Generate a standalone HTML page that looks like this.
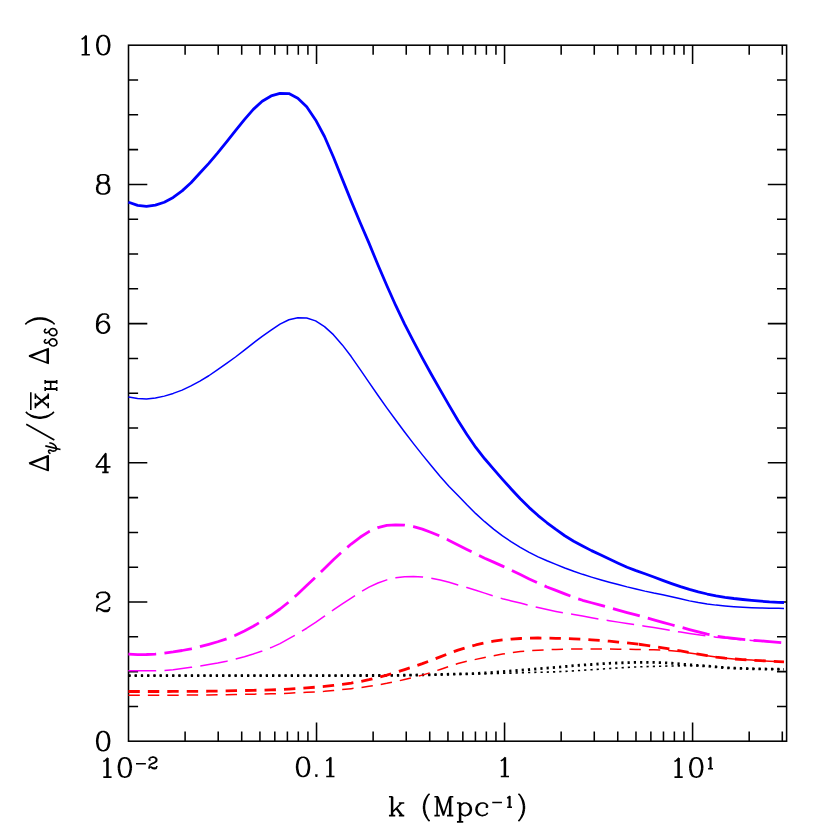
<!DOCTYPE html>
<html><head><meta charset="utf-8"><title>plot</title>
<style>html,body{margin:0;padding:0;background:#fff;font-family:"Liberation Sans",sans-serif}svg{display:block}</style>
</head><body>
<svg width="830" height="830" viewBox="0 0 830 830">
<rect width="830" height="830" fill="#fff"/>
<rect x="128.5" y="45.2" width="658.1" height="696" fill="none" stroke="#000" stroke-width="1.55"/>
<path d="M185.1 741.2v-9.6M185.1 45.2v9.6M218.21 741.2v-9.6M218.21 45.2v9.6M241.7 741.2v-9.6M241.7 45.2v9.6M259.93 741.2v-9.6M259.93 45.2v9.6M274.81 741.2v-9.6M274.81 45.2v9.6M287.4 741.2v-9.6M287.4 45.2v9.6M298.31 741.2v-9.6M298.31 45.2v9.6M307.92 741.2v-9.6M307.92 45.2v9.6M316.53 741.2v-18.8M316.53 45.2v18.8M373.13 741.2v-9.6M373.13 45.2v9.6M406.24 741.2v-9.6M406.24 45.2v9.6M429.73 741.2v-9.6M429.73 45.2v9.6M447.95 741.2v-9.6M447.95 45.2v9.6M462.84 741.2v-9.6M462.84 45.2v9.6M475.43 741.2v-9.6M475.43 45.2v9.6M486.34 741.2v-9.6M486.34 45.2v9.6M495.95 741.2v-9.6M495.95 45.2v9.6M504.56 741.2v-18.8M504.56 45.2v18.8M561.16 741.2v-9.6M561.16 45.2v9.6M594.27 741.2v-9.6M594.27 45.2v9.6M617.76 741.2v-9.6M617.76 45.2v9.6M635.98 741.2v-9.6M635.98 45.2v9.6M650.87 741.2v-9.6M650.87 45.2v9.6M663.46 741.2v-9.6M663.46 45.2v9.6M674.36 741.2v-9.6M674.36 45.2v9.6M683.98 741.2v-9.6M683.98 45.2v9.6M692.59 741.2v-18.8M692.59 45.2v18.8M749.19 741.2v-9.6M749.19 45.2v9.6M782.3 741.2v-9.6M782.3 45.2v9.6M128.5 706.4h9.6M786.6 706.4h-9.6M128.5 671.6h9.6M786.6 671.6h-9.6M128.5 636.8h9.6M786.6 636.8h-9.6M128.5 602h18.8M786.6 602h-18.8M128.5 567.2h9.6M786.6 567.2h-9.6M128.5 532.4h9.6M786.6 532.4h-9.6M128.5 497.6h9.6M786.6 497.6h-9.6M128.5 462.8h18.8M786.6 462.8h-18.8M128.5 428h9.6M786.6 428h-9.6M128.5 393.2h9.6M786.6 393.2h-9.6M128.5 358.4h9.6M786.6 358.4h-9.6M128.5 323.6h18.8M786.6 323.6h-18.8M128.5 288.8h9.6M786.6 288.8h-9.6M128.5 254h9.6M786.6 254h-9.6M128.5 219.2h9.6M786.6 219.2h-9.6M128.5 184.4h18.8M786.6 184.4h-18.8M128.5 149.6h9.6M786.6 149.6h-9.6M128.5 114.8h9.6M786.6 114.8h-9.6M128.5 80h9.6M786.6 80h-9.6" stroke="#000" stroke-width="1.55" fill="none"/>
<path d="M128.4 675.55 L128.7 675.55 L137.6 675.55 L146.5 675.55 L155.4 675.55 L164.3 675.55 L173.2 675.55 L182.1 675.55 L191 675.55 L199.9 675.55 L208.8 675.55 L217.7 675.55 L226.6 675.55 L235.5 675.55 L244.4 675.55 L253.3 675.55 L262.2 675.55 L271.1 675.55 L280 675.55 L288.9 675.55 L297.8 675.55 L306.7 675.55 L315.6 675.55 L324.5 675.55 L333.4 675.55 L342.3 675.55 L351.2 675.55 L360.1 675.55 L369 675.55 L377.9 675.55 L386.8 675.52 L395.7 675.42 L404.6 675.26 L413.5 675.08 L422.4 674.91 L431.3 674.74 L440.2 674.56 L449.1 674.37 L458 674.16 L466.9 673.96 L475.8 673.81 L484.7 673.71 L493.6 673.56 L502.5 673.3 L511.4 673.11 L520.3 672.85 L529.2 672.5 L538.1 672.28 L547 672.1 L555.9 671.83 L564.8 671.39 L573.7 670.83 L582.6 670.27 L591.5 669.69 L600.4 669.13 L609.3 668.53 L618.2 667.92 L627.1 667.38 L636 666.95 L644.9 666.65 L653.8 666.4 L662.7 666.18 L671.6 665.97 L680.5 665.82 L689.4 665.75 L698.3 665.82 L707.2 666.13 L716.1 666.84 L725 667.67 L733.9 668.18 L742.8 668.5 L751.7 668.74 L760.6 668.93 L769.5 669.09 L778.4 669.23 L784 669.3" fill="none" stroke="#000" stroke-width="1.6" stroke-dasharray="2.2 4.045" stroke-linejoin="round" stroke-linecap="butt"/>
<path d="M128.4 675.55 L128.7 675.55 L137.6 675.55 L146.5 675.55 L155.4 675.55 L164.3 675.55 L173.2 675.55 L182.1 675.55 L191 675.55 L199.9 675.55 L208.8 675.55 L217.7 675.55 L226.6 675.55 L235.5 675.55 L244.4 675.55 L253.3 675.55 L262.2 675.55 L271.1 675.55 L280 675.55 L288.9 675.55 L297.8 675.55 L306.7 675.55 L315.6 675.55 L324.5 675.55 L333.4 675.54 L342.3 675.54 L351.2 675.53 L360.1 675.52 L369 675.51 L377.9 675.5 L386.8 675.47 L395.7 675.38 L404.6 675.24 L413.5 675.08 L422.4 674.91 L431.3 674.72 L440.2 674.5 L449.1 674.27 L458 674.05 L466.9 673.81 L475.8 673.48 L484.7 673.01 L493.6 672.38 L502.5 671.56 L511.4 670.92 L520.3 670.3 L529.2 669.58 L538.1 668.85 L547 668.11 L555.9 667.35 L564.8 666.53 L573.7 665.72 L582.6 665.05 L591.5 664.51 L600.4 663.85 L609.3 663.29 L618.2 662.96 L627.1 662.6 L636 662.4 L644.9 662.4 L653.8 662.4 L662.7 662.67 L671.6 663.23 L680.5 664.03 L689.4 664.81 L698.3 665.46 L707.2 666.09 L716.1 666.87 L725 667.67 L733.9 668.18 L742.8 668.5 L751.7 668.74 L760.6 668.93 L769.5 669.09 L778.4 669.23 L784 669.3" fill="none" stroke="#000" stroke-width="2.8" stroke-dasharray="2.2 4.045" stroke-linejoin="round" stroke-linecap="butt"/>
<path d="M128.4 695.2 L128.7 695.2 L137.6 695.2 L146.5 695.2 L155.4 695.2 L164.3 695.2 L173.2 695.17 L182.1 695.13 L191 695.07 L199.9 695 L208.8 694.91 L217.7 694.79 L226.6 694.64 L235.5 694.48 L244.4 694.33 L253.3 694.18 L262.2 694.02 L271.1 693.84 L280 693.6 L288.9 693.21 L297.8 692.72 L306.7 692.29 L315.6 691.86 L324.5 691.27 L333.4 690.46 L342.3 689.57 L351.2 688.64 L360.1 687.59 L369 686.36 L377.9 684.96 L386.8 683.35 L395.7 681.53 L404.6 679.58 L413.5 677.49 L422.4 675.12 L431.3 672.35 L440.2 669.43 L449.1 666.42 L458 663.57 L466.9 661.3 L475.8 659.38 L484.7 657.5 L493.6 655.68 L502.5 654.06 L511.4 652.59 L520.3 651.47 L529.2 650.74 L538.1 650.2 L547 649.76 L555.9 649.41 L564.8 649.19 L573.7 649.04 L582.6 649 L591.5 649 L600.4 649 L609.3 649.04 L618.2 649.13 L627.1 649.25 L636 649.42 L644.9 649.6 L653.8 649.8 L662.7 650.13 L671.6 650.77 L680.5 651.66 L689.4 652.89 L698.3 654.33 L707.2 655.74 L716.1 657.09 L725 658.14 L733.9 658.91 L742.8 659.54 L751.7 660.11 L760.6 660.67 L769.5 661.17 L778.4 661.58 L784 661.8" fill="none" stroke="#f00" stroke-width="1.5" stroke-dasharray="11.4 8.05" stroke-linejoin="round" stroke-linecap="butt"/>
<path d="M128.4 691.5 L128.7 691.5 L137.6 691.5 L146.5 691.5 L155.4 691.5 L164.3 691.5 L173.2 691.47 L182.1 691.43 L191 691.37 L199.9 691.3 L208.8 691.2 L217.7 691.06 L226.6 690.88 L235.5 690.69 L244.4 690.51 L253.3 690.33 L262.2 690.13 L271.1 689.89 L280 689.6 L288.9 689.15 L297.8 688.55 L306.7 687.92 L315.6 687.19 L324.5 686.36 L333.4 685.4 L342.3 684.3 L351.2 683.06 L360.1 681.58 L369 679.73 L377.9 677.55 L386.8 675.09 L395.7 672.35 L404.6 669.56 L413.5 666.7 L422.4 663.65 L431.3 660.33 L440.2 656.92 L449.1 653.4 L458 650.07 L466.9 647.33 L475.8 644.98 L484.7 642.95 L493.6 641.16 L502.5 639.9 L511.4 639.03 L520.3 638.49 L529.2 638.18 L538.1 638.01 L547 638.07 L555.9 638.29 L564.8 638.53 L573.7 638.83 L582.6 639.23 L591.5 639.78 L600.4 640.43 L609.3 641.18 L618.2 642.02 L627.1 642.92 L636 643.91 L638.9 644.26" fill="none" stroke="#f00" stroke-width="2.8" stroke-dasharray="11.4 8.05" stroke-linejoin="round" stroke-linecap="butt"/>
<path d="M638.9 644.26 L644.9 645.06 L653.8 646.41 L662.7 647.84 L671.6 649.34 L680.5 650.89 L689.4 652.5 L698.3 654.11 L707.2 655.65 L716.1 657.08 L725 658.15 L733.9 658.91 L742.8 659.54 L751.7 660.11 L760.6 660.67 L769.5 661.17 L778.4 661.58 L784 661.8" fill="none" stroke="#f00" stroke-width="2.8" stroke-dasharray="11.4 8.05" stroke-linejoin="round" stroke-linecap="butt"/>
<path d="M128.4 670.85 L128.7 670.85 L137.6 670.85 L146.5 670.85 L155.4 670.81 L164.3 670.43 L173.2 669.69 L182.1 668.6 L191 667.36 L199.9 666.04 L208.8 664.61 L217.7 662.99 L226.6 661.16 L235.5 659.07 L244.4 656.66 L253.3 653.97 L262.2 650.95 L271.1 647.56 L280 643.57 L288.9 638.66 L297.8 633.66 L306.7 628.24 L315.6 622.4 L324.5 616.22 L333.4 609.93 L342.3 603.86 L351.2 598.01 L360.1 592.33 L369 587.14 L377.9 583.01 L386.8 579.87 L395.7 577.83 L404.6 576.69 L413.5 576.46 L422.4 577.01 L431.3 578.22 L440.2 580.04 L449.1 582.34 L458 584.91 L466.9 587.55 L475.8 590.29 L484.7 593.12 L493.6 596.05 L502.5 598.68 L511.4 600.92 L520.3 603.08 L529.2 605.35 L538.1 607.55 L547 609.56 L555.9 611.41 L564.8 613.06 L573.7 614.54 L582.6 616.06 L591.5 617.69 L600.4 619.27 L609.3 620.73 L618.2 622.12 L627.1 623.47 L636 624.79 L644.9 626.16 L653.8 627.59 L662.7 629.05 L671.6 630.59 L680.5 632.08 L689.4 633.46 L698.3 634.76 L707.2 635.99 L716.1 637.14 L725 638.12 L733.9 638.97 L742.8 639.79 L751.7 640.53 L760.6 641.16 L769.5 641.77 L778.4 642.4 L784 642.8" fill="none" stroke="#f0f" stroke-width="1.5" stroke-dasharray="27.8 8.3" stroke-linejoin="round" stroke-linecap="butt"/>
<path d="M128.4 654.02 L128.7 654.04 L137.6 654.56 L146.5 654.48 L155.4 654.04 L164.3 653.17 L173.2 651.95 L182.1 650.5 L191 648.79 L199.9 646.72 L208.8 644.34 L217.7 641.77 L226.6 638.86 L235.5 635.29 L244.4 630.96 L253.3 626.19 L262.2 620.96 L271.1 615.27 L280 609 L288.9 601.93 L297.8 594.04 L306.7 585.59 L315.6 577.16 L324.5 568.5 L333.4 559.73 L342.3 551.54 L351.2 544.03 L360.1 537.3 L369 531.56 L377.9 527.65 L386.8 525.4 L395.7 524.8 L404.6 525.16 L413.5 526.69 L422.4 529.18 L431.3 532.48 L440.2 536.1 L449.1 540.39 L458 544.98 L466.9 549.49 L475.8 553.97 L484.7 558.17 L493.6 562.13 L502.5 566.15 L511.4 570.32 L520.3 574.55 L529.2 578.9 L538.1 583.15 L547 586.93 L555.9 590.42 L564.8 593.89 L573.7 597.32 L582.6 600.29 L591.5 602.74 L600.4 605.12 L609.3 607.66 L618.2 610.2 L627.1 612.6 L636 614.93 L644.9 617.36 L653.8 619.87 L662.7 622.34 L671.6 624.74 L680.5 627.14 L689.4 629.6 L698.3 631.97 L707.2 634.17 L716.1 636.12 L725 637.45 L733.9 638.42 L742.8 639.33 L751.7 640.15 L760.6 640.86 L769.5 641.56 L778.4 642.31 L784 642.8" fill="none" stroke="#f0f" stroke-width="2.8" stroke-dasharray="27.8 8.3" stroke-linejoin="round" stroke-linecap="butt"/>
<path d="M128.4 397.04 L128.7 397.11 L137.6 398.57 L146.5 398.95 L155.4 398.09 L164.3 396.12 L173.2 393.41 L182.1 390.12 L191 385.9 L199.9 381.07 L208.8 375.75 L217.7 369.66 L226.6 363.4 L235.5 356.99 L244.4 350.1 L253.3 343.04 L262.2 336.43 L271.1 330.18 L280 324.2 L288.9 319.79 L297.8 317.71 L306.7 318.01 L315.6 320.9 L324.5 326.63 L333.4 334.65 L342.3 344.9 L351.2 356.56 L360.1 369.35 L369 382.35 L377.9 395.23 L386.8 407.84 L395.7 420.06 L404.6 431.97 L413.5 443.66 L422.4 454.88 L431.3 465.82 L440.2 476.49 L449.1 486.4 L458 495.48 L466.9 504.84 L475.8 513.68 L484.7 521.7 L493.6 529.13 L502.5 535.89 L511.4 541.83 L520.3 547.34 L529.2 552.44 L538.1 556.93 L547 560.79 L555.9 564.38 L564.8 567.98 L573.7 571.28 L582.6 574.34 L591.5 577.15 L600.4 579.75 L609.3 582.18 L618.2 584.42 L627.1 586.89 L636 588.92 L644.9 591.11 L653.8 593.06 L662.7 594.8 L671.6 596.67 L680.5 598.82 L689.4 600.87 L698.3 602.58 L707.2 604.02 L716.1 605.12 L725 605.99 L733.9 606.69 L742.8 607.25 L751.7 607.67 L760.6 607.97 L769.5 608.19 L778.4 608.34 L784 608.4" fill="none" stroke="#00f" stroke-width="1.5" stroke-linejoin="round" stroke-linecap="butt"/>
<path d="M128.4 202.09 L128.7 202.23 L137.6 205.36 L146.5 206.35 L155.4 205.15 L164.3 202.24 L173.2 197.44 L182.1 190.85 L191 182.75 L199.9 173.07 L208.8 163.32 L217.7 152.83 L226.6 141.85 L235.5 130.64 L244.4 119.56 L253.3 109.39 L262.2 101.28 L271.1 95.93 L280 93.3 L288.9 93.55 L297.8 98.14 L306.7 106.72 L315.6 119.95 L324.5 136.51 L333.4 157.04 L342.3 179.12 L351.2 201.13 L360.1 222.47 L369 243.15 L377.9 264.84 L386.8 285.44 L395.7 305.46 L404.6 324.08 L413.5 341.3 L422.4 358.14 L431.3 374.3 L440.2 389.85 L449.1 405.42 L458 420.48 L466.9 434.53 L475.8 447.46 L484.7 458.78 L493.6 469.12 L502.5 479.31 L511.4 489.2 L520.3 498.72 L529.2 507.6 L538.1 515.54 L547 522.77 L555.9 529.47 L564.8 535.76 L573.7 541.2 L582.6 546.03 L591.5 550.62 L600.4 554.84 L609.3 559.04 L618.2 563.18 L627.1 567.26 L636 570.62 L644.9 573.75 L653.8 577.01 L662.7 580.35 L671.6 583.56 L680.5 586.63 L689.4 589.42 L698.3 591.87 L707.2 594.01 L716.1 595.78 L725 597.28 L733.9 598.5 L742.8 599.49 L751.7 600.37 L760.6 601.2 L769.5 601.87 L778.4 602.31 L784 602.51" fill="none" stroke="#00f" stroke-width="2.8" stroke-linejoin="round" stroke-linecap="butt"/>
<path d="M102.23 731.53L104.06 731.53M102.23 731.53L99.49 732.45M102.23 731.53L100.41 732.45M104.06 731.53L105.89 732.45M104.06 731.53L106.81 732.45M99.49 732.45L97.66 735.2M100.41 732.45L99.49 733.37M105.89 732.45L106.81 733.37M106.81 732.45L108.64 735.2M99.49 733.37L98.58 735.2M106.81 733.37L107.72 735.2M97.66 735.2L96.75 739.77M98.58 735.2L97.66 739.77M107.72 735.2L108.64 739.77M108.64 735.2L109.56 739.77M96.75 739.77L96.75 742.51M97.66 739.77L97.66 742.51M108.64 739.77L108.64 742.51M109.56 739.77L109.56 742.51M96.75 742.51L97.66 747.09M97.66 742.51L98.58 747.09M108.64 742.51L107.72 747.09M109.56 742.51L108.64 747.09M97.66 747.09L99.49 749.84M98.58 747.09L99.49 748.92M107.72 747.09L106.81 748.92M108.64 747.09L106.81 749.84M99.49 748.92L100.41 749.84M106.81 748.92L105.89 749.84M99.49 749.84L102.23 750.75M100.41 749.84L102.23 750.75M105.89 749.84L104.06 750.75M106.81 749.84L104.06 750.75M102.23 750.75L104.06 750.75M101.32 592.33L104.98 592.33M101.32 592.33L98.58 593.25M104.98 592.33L106.81 593.25M104.98 592.33L107.72 593.25M98.58 593.25L97.66 594.16M106.81 593.25L107.72 594.16M107.72 593.25L108.64 594.16M97.66 594.16L96.75 596M107.72 594.16L108.64 596M108.64 594.16L109.56 596M96.75 596L96.75 596.91M97.66 596L98.58 596.91M108.64 596L108.64 597.82M109.56 596L109.56 597.82M96.75 596.91L97.66 597.82M98.58 596.91L97.66 597.82M108.64 597.82L107.72 599.65M109.56 597.82L108.64 599.65M107.72 599.65L104.98 601.48M108.64 599.65L105.89 601.48M104.98 601.48L99.49 604.23M105.89 601.48L101.32 603.31M99.49 604.23L97.66 606.06M97.66 606.06L96.75 608.8M109.56 606.97L109.56 608.8M96.75 608.8L96.75 611.55M97.66 608.8L99.49 608.8M97.66 608.8L96.75 609.72M99.49 608.8L104.06 610.63M99.49 608.8L104.06 611.55M109.56 608.8L108.64 609.72M109.56 608.8L108.64 610.63M108.64 609.72L106.81 610.63M104.06 610.63L106.81 610.63M108.64 610.63L107.72 611.55M104.06 611.55L107.72 611.55M105.89 453.14L103.15 456.8M105.89 453.14L98.58 463.2M105.89 453.14L95.83 466.86M105.89 453.14L105.89 472.35M104.98 454.97L104.98 472.35M103.15 456.8L98.58 463.2M103.15 456.8L95.83 466.86M101.32 459.54L100.41 460.46M98.58 463.2L95.83 466.86M95.83 466.86L110.47 466.86M102.23 472.35L108.64 472.35M103.15 313.94L105.89 313.94M103.15 313.94L100.41 314.85M103.15 313.94L101.32 314.85M105.89 313.94L107.72 314.85M100.41 314.85L98.58 316.68M101.32 314.85L99.49 316.68M107.72 314.85L108.64 316.68M98.58 316.68L97.66 318.51M99.49 316.68L98.58 318.51M107.72 316.68L106.81 317.6M108.64 316.68L108.64 317.6M106.81 317.6L107.72 318.51M108.64 317.6L107.72 318.51M97.66 318.51L96.75 322.17M98.58 318.51L97.66 322.17M103.15 321.26L104.06 321.26M103.15 321.26L100.41 322.17M104.06 321.26L105.89 322.17M104.06 321.26L106.81 322.17M96.75 322.17L96.75 327.66M97.66 322.17L97.66 327.66M100.41 322.17L98.58 324M105.89 322.17L107.72 324M106.81 322.17L108.64 324M98.58 324L97.66 326.75M107.72 324L108.64 326.75M108.64 324L109.56 326.75M108.64 326.75L108.64 327.66M109.56 326.75L109.56 327.66M96.75 327.66L97.66 330.41M97.66 327.66L98.58 330.41M108.64 327.66L107.72 330.41M109.56 327.66L108.64 330.41M97.66 330.41L99.49 332.24M98.58 330.41L100.41 332.24M107.72 330.41L105.89 332.24M108.64 330.41L106.81 332.24M99.49 332.24L102.23 333.15M100.41 332.24L102.23 333.15M105.89 332.24L104.06 333.15M106.81 332.24L104.06 333.15M102.23 333.15L104.06 333.15M101.32 174.73L104.98 174.73M101.32 174.73L98.58 175.65M101.32 174.73L99.49 175.65M104.98 174.73L106.81 175.65M104.98 174.73L107.72 175.65M98.58 175.65L97.66 177.48M99.49 175.65L98.58 177.48M106.81 175.65L107.72 177.48M107.72 175.65L108.64 177.48M97.66 177.48L97.66 180.22M98.58 177.48L98.58 180.22M107.72 177.48L107.72 180.22M108.64 177.48L108.64 180.22M97.66 180.22L98.58 182.05M98.58 180.22L99.49 182.05M107.72 180.22L106.81 182.05M108.64 180.22L107.72 182.05M98.58 182.05L101.32 182.97M99.49 182.05L101.32 182.97M106.81 182.05L104.98 182.97M107.72 182.05L104.98 182.97M101.32 182.97L104.98 182.97M101.32 182.97L98.58 183.88M101.32 182.97L99.49 183.88M104.98 182.97L106.81 183.88M104.98 182.97L107.72 183.88M98.58 183.88L97.66 184.8M99.49 183.88L98.58 184.8M106.81 183.88L107.72 184.8M107.72 183.88L108.64 184.8M97.66 184.8L96.75 186.63M98.58 184.8L97.66 186.63M107.72 184.8L108.64 186.63M108.64 184.8L109.56 186.63M96.75 186.63L96.75 190.29M97.66 186.63L97.66 190.29M108.64 186.63L108.64 190.29M109.56 186.63L109.56 190.29M96.75 190.29L97.66 192.12M97.66 190.29L98.58 192.12M108.64 190.29L107.72 192.12M109.56 190.29L108.64 192.12M97.66 192.12L98.58 193.03M98.58 192.12L99.49 193.03M107.72 192.12L106.81 193.03M108.64 192.12L107.72 193.03M98.58 193.03L101.32 193.95M99.49 193.03L101.32 193.95M106.81 193.03L104.98 193.95M107.72 193.03L104.98 193.95M101.32 193.95L104.98 193.95M86.21 35.54L83.46 38.28M86.21 35.54L86.21 54.75M85.29 36.45L85.29 54.75M83.46 38.28L81.63 39.2M81.63 54.75L89.87 54.75M102.33 35.54L104.16 35.54M102.33 35.54L99.59 36.45M102.33 35.54L100.5 36.45M104.16 35.54L105.99 36.45M104.16 35.54L106.91 36.45M99.59 36.45L97.76 39.2M100.5 36.45L99.59 37.37M105.99 36.45L106.91 37.37M106.91 36.45L108.74 39.2M99.59 37.37L98.67 39.2M106.91 37.37L107.82 39.2M97.76 39.2L96.84 43.77M98.67 39.2L97.76 43.77M107.82 39.2L108.74 43.77M108.74 39.2L109.66 43.77M96.84 43.77L96.84 46.52M97.76 43.77L97.76 46.52M108.74 43.77L108.74 46.52M109.66 43.77L109.66 46.52M96.84 46.52L97.76 51.09M97.76 46.52L98.67 51.09M108.74 46.52L107.82 51.09M109.66 46.52L108.74 51.09M97.76 51.09L99.59 53.84M98.67 51.09L99.59 52.92M107.82 51.09L106.91 52.92M108.74 51.09L106.91 53.84M99.59 52.92L100.5 53.84M106.91 52.92L105.99 53.84M99.59 53.84L102.33 54.75M100.5 53.84L102.33 54.75M105.99 53.84L104.16 54.75M106.91 53.84L104.16 54.75M102.33 54.75L104.16 54.75M107.91 757.88L105.16 760.63M107.91 757.88L107.91 777.1M106.99 758.8L106.99 777.1M105.16 760.63L103.33 761.55M103.33 777.1L111.57 777.1M123.93 757.88L125.76 757.88M123.93 757.88L121.19 758.8M123.93 757.88L122.1 758.8M125.76 757.88L127.59 758.8M125.76 757.88L128.51 758.8M121.19 758.8L119.36 761.55M122.1 758.8L121.19 759.72M127.59 758.8L128.51 759.72M128.51 758.8L130.34 761.55M121.19 759.72L120.27 761.55M128.51 759.72L129.42 761.55M119.36 761.55L118.44 766.12M120.27 761.55L119.36 766.12M129.42 761.55L130.34 766.12M130.34 761.55L131.25 766.12M118.44 766.12L118.44 768.87M119.36 766.12L119.36 768.87M130.34 766.12L130.34 768.87M131.25 766.12L131.25 768.87M118.44 768.87L119.36 773.44M119.36 768.87L120.27 773.44M130.34 768.87L129.42 773.44M131.25 768.87L130.34 773.44M119.36 773.44L121.19 776.19M120.27 773.44L121.19 775.27M129.42 773.44L128.51 775.27M130.34 773.44L128.51 776.19M121.19 775.27L122.1 776.19M128.51 775.27L127.59 776.19M121.19 776.19L123.93 777.1M122.1 776.19L123.93 777.1M127.59 776.19L125.76 777.1M128.51 776.19L125.76 777.1M123.93 777.1L125.76 777.1M136.01 763.76L145.89 763.76M151.85 757.17L154.05 757.17M151.85 757.17L150.2 757.72M154.05 757.17L155.15 757.72M154.05 757.17L155.69 757.72M150.2 757.72L149.66 758.27M155.15 757.72L155.69 758.27M155.69 757.72L156.24 758.27M149.66 758.27L149.11 759.37M155.69 758.27L156.24 759.37M156.24 758.27L156.79 759.37M149.11 759.37L149.11 759.92M149.66 759.37L150.2 759.92M156.24 759.37L156.24 760.47M156.79 759.37L156.79 760.47M149.11 759.92L149.66 760.47M150.2 759.92L149.66 760.47M156.24 760.47L155.69 761.56M156.79 760.47L156.24 761.56M155.69 761.56L154.05 762.66M156.24 761.56L154.6 762.66M154.05 762.66L150.75 764.31M154.6 762.66L151.85 763.76M150.75 764.31L149.66 765.41M149.66 765.41L149.11 767.05M156.79 765.96L156.79 767.05M149.11 767.05L149.11 768.7M149.66 767.05L150.75 767.05M149.66 767.05L149.11 767.6M150.75 767.05L153.5 768.15M150.75 767.05L153.5 768.7M156.79 767.05L156.24 767.6M156.79 767.05L156.24 768.15M156.24 767.6L155.15 768.15M153.5 768.15L155.15 768.15M156.24 768.15L155.69 768.7M153.5 768.7L155.69 768.7M302.14 757.24L303.97 757.24M302.14 757.24L299.39 758.15M302.14 757.24L300.31 758.15M303.97 757.24L305.8 758.15M303.97 757.24L306.71 758.15M299.39 758.15L297.56 760.9M300.31 758.15L299.39 759.07M305.8 758.15L306.71 759.07M306.71 758.15L308.54 760.9M299.39 759.07L298.48 760.9M306.71 759.07L307.63 760.9M297.56 760.9L296.65 765.47M298.48 760.9L297.56 765.47M307.63 760.9L308.54 765.47M308.54 760.9L309.46 765.47M296.65 765.47L296.65 768.22M297.56 765.47L297.56 768.22M308.54 765.47L308.54 768.22M309.46 765.47L309.46 768.22M296.65 768.22L297.56 772.79M297.56 768.22L298.48 772.79M308.54 768.22L307.63 772.79M309.46 768.22L308.54 772.79M297.56 772.79L299.39 775.54M298.48 772.79L299.39 774.62M307.63 772.79L306.71 774.62M308.54 772.79L306.71 775.54M299.39 774.62L300.31 775.54M306.71 774.62L305.8 775.54M299.39 775.54L302.14 776.45M300.31 775.54L302.14 776.45M305.8 775.54L303.97 776.45M306.71 775.54L303.97 776.45M302.14 776.45L303.97 776.45M316.4 774.62L315.49 775.54M316.4 774.62L317.31 775.54M315.49 775.54L316.4 776.45M317.31 775.54L316.4 776.45M330.81 757.24L328.06 759.98M330.81 757.24L330.81 776.45M329.89 758.15L329.89 776.45M328.06 759.98L326.23 760.9M326.23 776.45L334.47 776.45M505.36 757.24L502.61 759.98M505.36 757.24L505.36 776.45M504.44 758.15L504.44 776.45M502.61 759.98L500.78 760.9M500.78 776.45L509.02 776.45M679.06 757.88L676.31 760.63M679.06 757.88L679.06 777.1M678.14 758.8L678.14 777.1M676.31 760.63L674.48 761.55M674.48 777.1L682.72 777.1M695.34 757.88L697.17 757.88M695.34 757.88L692.59 758.8M695.34 757.88L693.5 758.8M697.17 757.88L699 758.8M697.17 757.88L699.91 758.8M692.59 758.8L690.76 761.55M693.5 758.8L692.59 759.72M699 758.8L699.91 759.72M699.91 758.8L701.74 761.55M692.59 759.72L691.68 761.55M699.91 759.72L700.83 761.55M690.76 761.55L689.85 766.12M691.68 761.55L690.76 766.12M700.83 761.55L701.74 766.12M701.74 761.55L702.65 766.12M689.85 766.12L689.85 768.87M690.76 766.12L690.76 768.87M701.74 766.12L701.74 768.87M702.65 766.12L702.65 768.87M689.85 768.87L690.76 773.44M690.76 768.87L691.68 773.44M701.74 768.87L700.83 773.44M702.65 768.87L701.74 773.44M690.76 773.44L692.59 776.19M691.68 773.44L692.59 775.27M700.83 773.44L699.91 775.27M701.74 773.44L699.91 776.19M692.59 775.27L693.5 776.19M699.91 775.27L699 776.19M692.59 776.19L695.34 777.1M693.5 776.19L695.34 777.1M699 776.19L697.17 777.1M699.91 776.19L697.17 777.1M695.34 777.1L697.17 777.1M710.82 757.17L709.18 758.82M710.82 757.17L710.82 768.7M710.28 757.72L710.28 768.7M709.18 758.82L708.08 759.37M708.08 768.7L713.02 768.7M388.95 796.7L392.55 796.7M391.65 796.7L391.65 815.6M392.55 796.7L392.55 815.6M398.85 803L404.25 803M401.55 803L392.55 812M396.15 808.4L401.55 815.6M397.05 808.4L402.45 815.6M388.95 815.6L395.25 815.6M398.85 815.6L404.25 815.6M429.59 793.73L427.88 795.44M427.88 795.44L426.17 798M427.88 795.44L426.17 798.86M426.17 798L424.46 801.42M426.17 798.86L425.32 801.42M424.46 801.42L423.61 805.7M425.32 801.42L424.46 805.7M423.61 805.7L423.61 809.12M424.46 805.7L424.46 809.12M423.61 809.12L424.46 813.39M424.46 809.12L425.32 813.39M424.46 813.39L426.17 816.81M425.32 813.39L426.17 815.96M426.17 815.96L427.88 819.38M426.17 816.81L427.88 819.38M427.88 819.38L429.59 821.09M434.4 796.7L438 796.7M437.1 796.7L437.1 815.6M437.1 796.7L443.4 815.6M438 796.7L443.4 812.9M449.7 796.7L453.3 796.7M449.7 796.7L443.4 815.6M449.7 796.7L449.7 815.6M450.6 796.7L450.6 815.6M434.4 815.6L439.8 815.6M447 815.6L453.3 815.6M456.95 803L460.55 803M459.65 803L459.65 821.9M460.55 803L460.55 821.9M464.15 803L465.95 803M464.15 803L462.35 803.9M465.95 803L467.75 803.9M465.95 803L468.65 803.9M462.35 803.9L460.55 805.7M467.75 803.9L469.55 805.7M468.65 803.9L470.45 805.7M469.55 805.7L470.45 808.4M470.45 805.7L471.35 808.4M470.45 808.4L470.45 810.2M471.35 808.4L471.35 810.2M470.45 810.2L469.55 812.9M471.35 810.2L470.45 812.9M460.55 812.9L462.35 814.7M469.55 812.9L467.75 814.7M470.45 812.9L468.65 814.7M462.35 814.7L464.15 815.6M467.75 814.7L465.95 815.6M468.65 814.7L465.95 815.6M464.15 815.6L465.95 815.6M456.95 821.9L463.25 821.9M481.4 803L484.1 803M481.4 803L478.7 803.9M481.4 803L479.6 803.9M484.1 803L485.9 803.9M478.7 803.9L476.9 805.7M479.6 803.9L477.8 805.7M485.9 803.9L487.7 805.7M476.9 805.7L476 808.4M477.8 805.7L476.9 808.4M486.8 805.7L485.9 806.6M487.7 805.7L487.7 806.6M485.9 806.6L486.8 807.5M487.7 806.6L486.8 807.5M476 808.4L476 810.2M476.9 808.4L476.9 810.2M476 810.2L476.9 812.9M476.9 810.2L477.8 812.9M476.9 812.9L478.7 814.7M477.8 812.9L479.6 814.7M487.7 812.9L485.9 814.7M478.7 814.7L481.4 815.6M479.6 814.7L481.4 815.6M485.9 814.7L483.2 815.6M481.4 815.6L483.2 815.6M492.24 802.44L501.96 802.44M509.87 795.96L508.25 797.58M509.87 795.96L509.87 807.3M509.33 796.5L509.33 807.3M508.25 797.58L507.17 798.12M507.17 807.3L512.03 807.3M518.41 793.73L520.12 795.44M520.12 795.44L521.83 798M520.12 795.44L521.83 798.86M521.83 798L523.54 801.42M521.83 798.86L522.68 801.42M522.68 801.42L523.54 805.7M523.54 801.42L524.39 805.7M523.54 805.7L523.54 809.12M524.39 805.7L524.39 809.12M523.54 809.12L522.68 813.39M524.39 809.12L523.54 813.39M522.68 813.39L521.83 815.96M523.54 813.39L521.83 816.81M521.83 815.96L520.12 819.38M521.83 816.81L520.12 819.38M520.12 819.38L518.41 821.09" stroke="#000" stroke-width="1.6" fill="none" stroke-linecap="butt" stroke-linejoin="round"/>
<g transform="translate(48.2 470.5) rotate(-90)"><path d="M7.32 -19.21L0 0L14.64 0L7.32 -19.21M7.32 -16.47L13.73 -0.92M0.92 -0.92L13.73 -0.92M24.6 -2.9L21 12.3M16.8 2.3L17.7 1L18.8 0.35L19.9 0.5L20.4 2L19.7 3.5L19.4 4.9L19.7 7L21 8.1L22.8 8.1L25 7L26.2 5.5L26.9 4.1L27.7 1.1M46.27 -21.96L30.46 6.15M58.56 -22.36L56.81 -20.6M56.81 -20.6L55.05 -17.97M56.81 -20.6L55.05 -17.09M55.05 -17.97L53.29 -14.45M55.05 -17.09L54.17 -14.45M53.29 -14.45L52.41 -10.06M54.17 -14.45L53.29 -10.06M52.41 -10.06L52.41 -6.55M53.29 -10.06L53.29 -6.55M52.41 -6.55L53.29 -2.16M53.29 -6.55L54.17 -2.16M53.29 -2.16L55.05 1.36M54.17 -2.16L55.05 0.48M55.05 0.48L56.81 3.99M55.05 1.36L56.81 3.99M56.81 3.99L58.56 5.75M62.33 -12.81L67.82 -12.81M64.16 -12.81L67.82 -8.23M64.16 -12.81L70.56 -4.58M64.16 -12.81L74.22 0M65.08 -12.81L68.73 -8.23M65.08 -12.81L71.48 -4.58M65.08 -12.81L75.14 0M71.48 -12.81L76.97 -12.81M75.14 -12.81L74.22 -11.89M75.14 -12.81L64.16 0M66.91 -9.15L67.82 -8.23M67.82 -9.15L68.73 -8.23M67.82 -8.23L70.56 -4.58M67.82 -8.23L74.22 0M68.73 -8.23L71.48 -4.58M68.73 -8.23L75.14 0M70.56 -7.32L68.73 -5.49M70.56 -4.58L74.22 0M71.48 -4.58L75.14 0M65.08 -0.92L64.16 0M62.33 0L67.82 0M71.48 0L76.97 0M60.4 -17.4L78.3 -17.4M79.6 -3.03L83.44 -3.03M81.25 -3.03L81.25 8.5M81.79 -3.03L81.79 8.5M86.73 -3.03L90.58 -3.03M88.38 -3.03L88.38 8.5M88.93 -3.03L88.93 8.5M81.79 2.46L88.38 2.46M79.6 8.5L83.44 8.5M86.73 8.5L90.58 8.5M114.52 -19.21L107.2 0L121.84 0L114.52 -19.21M114.52 -16.47L120.93 -0.92M108.12 -0.92L120.93 -0.92M131.15 -2.07L130.43 -3.33L128.98 -3.88L127.54 -3.15L127.36 -1.53L128.26 0.1L129.71 1.37L131.15 2.8L131.7 4.62L131.15 6.79L129.35 8.4L127.18 8.77L125.37 7.69L124.47 5.7L124.83 3.53L126.09 1.73L127.9 0.82L129.53 1.18M141.45 -2.07L140.73 -3.33L139.28 -3.88L137.84 -3.15L137.66 -1.53L138.56 0.1L140.01 1.37L141.45 2.8L142 4.62L141.45 6.79L139.65 8.4L137.48 8.77L135.67 7.69L134.77 5.7L135.13 3.53L136.39 1.73L138.2 0.82L139.83 1.18M146.15 -22.88L147.97 -21.05M147.97 -21.05L149.81 -18.3M147.97 -21.05L149.81 -17.39M149.81 -18.3L151.63 -14.64M149.81 -17.39L150.72 -14.64M150.72 -14.64L151.63 -10.07M151.63 -14.64L152.55 -10.07M151.63 -10.07L151.63 -6.41M152.55 -10.07L152.55 -6.41M151.63 -6.41L150.72 -1.83M152.55 -6.41L151.63 -1.83M150.72 -1.83L149.81 0.92M151.63 -1.83L149.81 1.83M149.81 0.92L147.97 4.58M149.81 1.83L147.97 4.58M147.97 4.58L146.15 6.41" stroke="#000" stroke-width="1.6" fill="none" stroke-linecap="butt" stroke-linejoin="round"/></g>
</svg>
</body></html>
